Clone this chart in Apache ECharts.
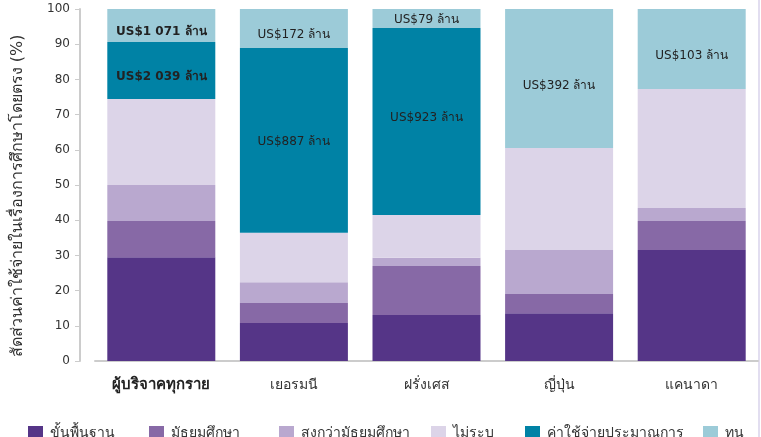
<!DOCTYPE html>
<html>
<head>
<meta charset="utf-8">
<script src="https://cdn.jsdelivr.net/npm/echarts@6/dist/echarts.min.js"></script>
<style>html,body{margin:0;padding:0;background:#fff}#c{width:761px;height:437px}</style>
</head>
<body>
<div id="c"></div>
<script>
const categories = ['ผู้บริจาคทุกราย', 'เยอรมนี', 'ฝรั่งเศส', 'ญี่ปุ่น', 'แคนาดา'];
const seriesNames = ['ขั้นพื้นฐาน', 'มัธยมศึกษา', 'สูงกว่ามัธยมศึกษา', 'ไม่ระบุ', 'ค่าใช้จ่ายประมาณการ', 'ทุน'];
const basic = [29.5, 10.8, 13.1, 13.6, 31.5];
const secondary = [10.3, 5.7, 13.9, 5.4, 8.3];
const postSecondary = [10.2, 5.9, 2.3, 12.5, 3.7];
const unspecified = [24.4, 14.0, 12.2, 29.0, 33.8];
const adminCosts = [16.2, 52.5, 53.1, 0, 0];
const capital = [9.4, 11.1, 5.4, 39.5, 22.7];
const adminLabels = ['US$2 039 ล้าน', 'US$887 ล้าน', 'US$923 ล้าน', '', ''];
const capitalLabels = ['US$1 071 ล้าน', 'US$172 ล้าน', 'US$79 ล้าน', 'US$392 ล้าน', 'US$103 ล้าน'];
const yTicks = [0, 10, 20, 30, 40, 50, 60, 70, 80, 90, 100];

const colors = ['#553587', '#8769a6', '#b9a8cf', '#dcd4e8', '#0082a5', '#9ccbd8'];
const values = [basic, secondary, postSecondary, unspecified, adminCosts, capital];
const labelSets = [null, null, null, null, adminLabels, capitalLabels];
const labelDy = [null, null, null, null, [6, 1, -4, 0, 0], [6, 6, 1, 7, 7]];
const FONT = '"DejaVu Sans", "Liberation Sans", sans-serif';

const series = values.map((arr, si) => ({
  name: seriesNames[si],
  type: 'bar',
  stack: 'total',
  barWidth: 108,
  itemStyle: { color: colors[si] },
  emphasis: { disabled: true },
  data: arr.map((v, i) => {
    const d = { value: v };
    if (labelSets[si] && labelSets[si][i]) {
      d.label = {
        show: true,
        position: 'inside',
        offset: [0, labelDy[si][i]],
        formatter: labelSets[si][i],
        color: '#222',
        fontSize: 12,
        fontFamily: FONT,
        fontWeight: i === 0 ? 'bold' : 'normal'
      };
    }
    return d;
  })
}));

const legendLeft = [23, 144, 274, 426, 520, 698];
const legends = seriesNames.map((n, i) => ({
  data: [n],
  left: legendLeft[i],
  top: 421,
  icon: 'rect',
  itemWidth: 15,
  itemHeight: 15,
  itemGap: 0,
  selectedMode: false,
  textStyle: { fontSize: 14, color: '#333', fontFamily: FONT, padding: [0, 0, 0, 2] }
}));

const chart = echarts.init(document.getElementById('c'));
chart.setOption({
  animation: false,
  backgroundColor: '#fff',
  color: colors,
  legend: legends,
  grid: { left: 95, right: 3, top: 9, bottom: 76, containLabel: false },
  xAxis: {
    type: 'category',
    data: categories,
    axisLine: { lineStyle: { color: '#cccccc', width: 2 } },
    axisTick: { show: false },
    axisLabel: {
      interval: 0,
      margin: 17,
      fontSize: 14,
      color: '#333',
      fontFamily: FONT,
      formatter: (v, i) => i === 0 ? '{b|' + v + '}' : v,
      rich: { b: { fontWeight: 'bold', fontSize: 15, color: '#222', fontFamily: FONT } }
    }
  },
  yAxis: {
    type: 'value',
    min: yTicks[0],
    max: yTicks[yTicks.length - 1],
    interval: 10,
    offset: 15,
    name: 'สัดส่วนค่าใช้จ่ายในเรื่องการศึกษาโดยตรง (%)',
    nameLocation: 'middle',
    nameGap: 54,
    nameTextStyle: { fontSize: 16, color: '#333', fontFamily: FONT, padding: [0, 22, 0, 0] },
    axisLine: { show: true, lineStyle: { color: '#cccccc', width: 2 } },
    axisTick: { show: true, length: 5, lineStyle: { color: '#cccccc' } },
    splitLine: { show: false },
    axisLabel: { fontSize: 12, color: '#333', margin: 10, fontFamily: FONT }
  },
  graphic: [{
    type: 'rect',
    shape: { x: 758, y: 0, width: 2, height: 437 },
    style: { fill: '#e2def0' },
    silent: true
  }],
  series: series
});
</script>
</body>
</html>
